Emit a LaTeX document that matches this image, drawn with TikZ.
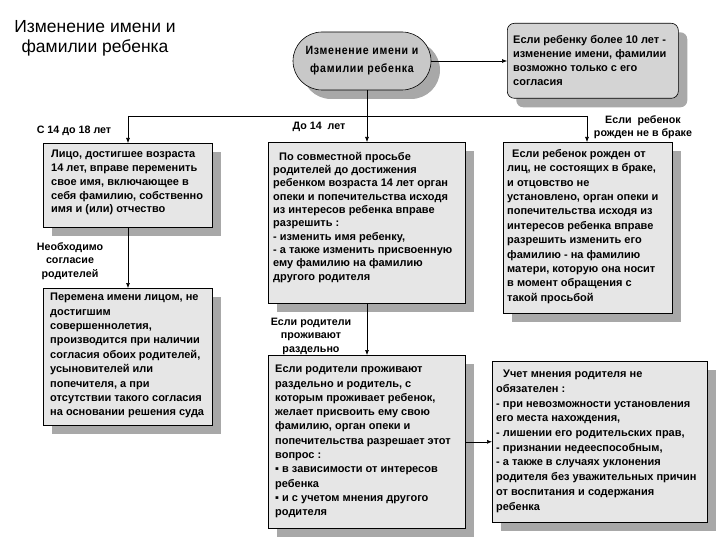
\documentclass[tikz,border=0pt]{standalone}
\usepackage{fontspec}
\setmainfont{Liberation Sans}
\usetikzlibrary{shapes.misc,shadows,arrows.meta}
\definecolor{boxfill}{RGB}{230,230,230}
\definecolor{rnfill}{RGB}{200,200,200}
\definecolor{trfill}{RGB}{212,212,212}
\definecolor{shad}{RGB}{168,168,168}
\begin{document}
\begin{tikzpicture}[x=1pt,y=-1pt,
  shd/.style={drop shadow={shadow xshift=9pt, shadow yshift=-9pt, fill=shad, opacity=1}},
  shbox/.style={draw, line width=0.6pt, anchor=north west, inner sep=0pt, fill=boxfill, shd},
  txt/.style={anchor=north west, inner sep=0pt, align=left},
  lbl/.style={inner sep=0pt, align=center, font=\bfseries\fontsize{10.7}{13.5}\selectfont},
  arr/.style={-{Latex[length=5pt,width=4pt]}, line width=0.6pt}]
\useasboundingbox (0,0) rectangle (720,540);

% title
\node[inner sep=0pt, align=center, font=\fontsize{17.5}{20}\selectfont] (title) at (95,38) {Изменение имени и\\фамилии ребенка};

% central rounded node
\node[draw, line width=0.6pt, rounded rectangle, fill=rnfill, minimum width=138pt, minimum height=58pt, inner sep=0pt, shd,
  align=center, font=\bfseries\fontsize{12}{18}\selectfont\addfontfeature{FakeStretch=0.88,LetterSpace=6}] (RN) at (362,61) {Изменение имени и\\фамилии ребенка};

% top right box
\node[draw, line width=0.6pt, rounded corners=7pt, fill=trfill, anchor=north west, minimum width=171pt, minimum height=75pt, inner sep=0pt, shd] (TR) at (507,23) {};
\node[txt, font=\bfseries\fontsize{11}{14}\selectfont] (tTR) at ([xshift=6pt,yshift=-12pt]TR.north west) {Если ребенку более 10 лет -\\изменение имени, фамилии\\возможно только с его\\согласия};

% boxes
\node[shbox, minimum width=169pt, minimum height=84pt] (L1) at (43,143) {};
\node[shbox, minimum width=169pt, minimum height=137pt] (L2) at (43,288) {};
\node[shbox, minimum width=197pt, minimum height=161pt] (M1) at (268,142) {};
\node[shbox, minimum width=197pt, minimum height=173pt] (M2) at (268,355) {};
\node[shbox, minimum width=169pt, minimum height=171pt] (R1) at (503,142) {};
\node[shbox, minimum width=215pt, minimum height=161pt] (R2) at (492,361) {};

\node[txt, font=\bfseries\fontsize{11}{13.8}\selectfont] (tL1) at ([xshift=8pt,yshift=-7pt]L1.north west)
 {Лицо, достигшее возраста\\14 лет, вправе переменить\\свое имя, включающее в\\себя фамилию, собственно\\имя и (или) отчество};
\node[txt, font=\bfseries\fontsize{11}{14.4}\selectfont] (tL2) at ([xshift=7pt,yshift=-5pt]L2.north west)
 {Перемена имени лицом, не\\достигшим\\совершеннолетия,\\производится при наличии\\согласия обоих родителей,\\усыновителей или\\попечителя, а при\\отсутствии такого согласия\\на основании решения суда};
\node[txt, font=\bfseries\fontsize{11}{13.3}\selectfont] (tM1) at ([xshift=5pt,yshift=-10pt]M1.north west)
 {\hspace*{6pt}По совместной просьбе\\родителей до достижения\\ребенком возраста 14 лет орган\\опеки и попечительства исходя\\из интересов ребенка вправе\\разрешить :\\- изменить имя ребенку,\\- а также изменить присвоенную\\ему фамилию на фамилию\\другого родителя};
\node[txt, font=\bfseries\fontsize{11}{14.3}\selectfont] (tM2) at ([xshift=7pt,yshift=-10pt]M2.north west)
 {Если родители проживают\\раздельно и родитель, с\\которым проживает ребенок,\\желает присвоить ему свою\\фамилию, орган опеки и\\попечительства разрешает этот\\вопрос :\\▪ в зависимости от интересов\\ребенка\\▪ и с учетом мнения другого\\родителя};
\node[txt, font=\bfseries\fontsize{11}{14.4}\selectfont] (tR1) at ([xshift=4pt,yshift=-7pt]R1.north west)
 {\hspace*{5pt}Если ребенок рожден от\\лиц, не состоящих в браке,\\и отцовство не\\установлено, орган опеки и\\попечительства исходя из\\интересов ребенка вправе\\разрешить изменить его\\фамилию - на фамилию\\матери, которую она носит\\в момент обращения с\\такой просьбой};
\node[txt, font=\bfseries\fontsize{11}{14.7}\selectfont] (tR2) at ([xshift=4pt,yshift=-9pt]R2.north west)
 {\hspace*{7pt}Учет мнения родителя не\\обязателен :\\- при невозможности установления\\его места нахождения,\\- лишении его родительских прав,\\- признании недееспособным,\\- а также в случаях уклонения\\родителя без уважительных причин\\от воспитания и содержания\\ребенка};

% connectors
\coordinate (j) at (367,116);
\coordinate (cL) at (128,116);
\coordinate (cR) at (587,116);
\draw[arr] (RN.east) -- (RN.east -| TR.west);
\draw[line width=0.6pt] (RN.south -| j) -- (j);
\draw[line width=0.6pt] (cL) -- (cR);
\draw[arr] (cL) -- (cL |- L1.north);
\draw[arr] (j) -- (j |- M1.north);
\draw[arr] (cR) -- (cR |- R1.north);
\draw[arr] (L1.south -| cL) -- (L2.north -| cL);
\draw[arr] (M1.south -| j) -- (M2.north -| j);
\draw[arr] (M2.east) -- (M2.east -| R2.west);

% labels
\node[lbl] (la) at (74,131) {С 14 до 18 лет};
\node[lbl] (lb) at (319,127) {До 14 \ лет};
\node[lbl] (lc) at (643,127) {Если \ ребенок\\рожден не в браке};
\node[lbl] (ld) at (70,261) {Необходимо\\согласие\\родителей};
\node[lbl] (le) at (311,336) {Если родители\\проживают\\раздельно};
\end{tikzpicture}
\end{document}
